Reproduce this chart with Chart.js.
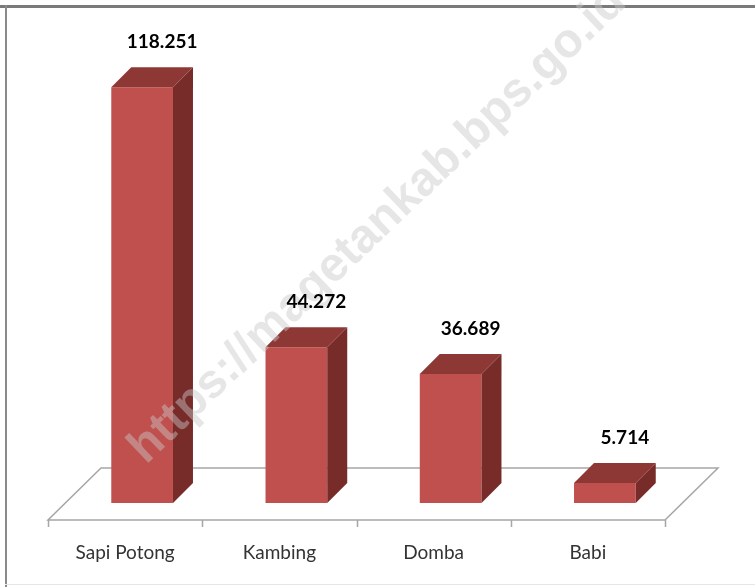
<!DOCTYPE html>
<html>
<head>
<meta charset="utf-8">
<script src="https://cdn.jsdelivr.net/npm/chart.js@4.4.0/dist/chart.umd.min.js"></script>
<style>
  html, body { margin: 0; padding: 0; background: #fff; }
  canvas { display: block; }
</style>
</head>
<body>
<canvas id="ternakChart" width="755" height="587"></canvas>
<script>
// data
const categories = ['Sapi Potong', 'Kambing', 'Domba', 'Babi'];
const populasi = [118251, 44272, 36689, 5714];
const yMax = 130000;

const watermarkText = 'https://magetankab.bps.go.id';

// 3D look
const barDepth = 20;          // depth of each bar (px)
const floorFront = [-17, 17]; // front edge of floor, relative to bar plane
const floorBack = [36, -35];  // back edge of floor, relative to bar plane

function formatNum(v) {
    return String(v).replace(/\B(?=(\d{3})+(?!\d))/g, '.');
}

const frame3d = {
    id: 'frame3d',
    beforeDraw(chart) {
        const ctx = chart.ctx;
        ctx.save();
        ctx.fillStyle = '#ffffff';
        ctx.fillRect(0, 0, chart.width, chart.height);
        // outer frame of the picture
        ctx.fillStyle = '#7a7a7a';
        ctx.fillRect(0, 5, chart.width, 3);
        ctx.fillStyle = '#8a8a8a';
        ctx.fillRect(5, 5, 2, chart.height - 5);
        ctx.fillStyle = '#e6e6e6';
        ctx.fillRect(5, 584, chart.width, 1);
        ctx.restore();
    },
    beforeDatasetsDraw(chart) {
        const ctx = chart.ctx;
        const a = chart.chartArea;
        const xs = chart.scales.x;
        const l = a.left, r = a.right, b = a.bottom;
        ctx.save();
        ctx.strokeStyle = '#a6a6a6';
        ctx.lineWidth = 1.5;
        ctx.beginPath();
        ctx.moveTo(l + floorFront[0], b + floorFront[1]);
        ctx.lineTo(r + floorFront[0], b + floorFront[1]);
        ctx.lineTo(r + floorBack[0], b + floorBack[1]);
        ctx.lineTo(l + floorBack[0], b + floorBack[1]);
        ctx.closePath();
        ctx.stroke();
        // tick marks on the front edge, between categories
        const step = (r - l) / categories.length;
        ctx.beginPath();
        for (let i = 0; i <= categories.length; i++) {
            const x = Math.round(xs.getPixelForValue(0) - step / 2 + i * step + floorFront[0]) + 0.5;
            ctx.moveTo(x, b + floorFront[1]);
            ctx.lineTo(x, b + floorFront[1] + 7);
        }
        ctx.stroke();
        ctx.restore();
    },
    afterDatasetsDraw(chart) {
        const ctx = chart.ctx;
        const meta = chart.getDatasetMeta(0);
        ctx.save();
        meta.data.forEach(bar => {
            const p = bar.getProps(['x', 'y', 'base', 'width'], true);
            const left = p.x - p.width / 2, right = p.x + p.width / 2;
            // side face
            ctx.fillStyle = '#772c2a';
            ctx.beginPath();
            ctx.moveTo(right, p.y);
            ctx.lineTo(right + barDepth, p.y - barDepth);
            ctx.lineTo(right + barDepth, p.base - barDepth);
            ctx.lineTo(right, p.base);
            ctx.closePath();
            ctx.fill();
            // top face
            ctx.fillStyle = '#8e3836';
            ctx.beginPath();
            ctx.moveTo(left, p.y);
            ctx.lineTo(right, p.y);
            ctx.lineTo(right + barDepth, p.y - barDepth);
            ctx.lineTo(left + barDepth, p.y - barDepth);
            ctx.closePath();
            ctx.fill();
        });
        ctx.restore();
    },
    afterDraw(chart) {
        const ctx = chart.ctx;
        // watermark
        ctx.save();
        ctx.translate(146, 465);
        ctx.rotate(-43.7 * Math.PI / 180);
        ctx.font = 'bold 48px "Liberation Sans", Arial, sans-serif';
        ctx.fillStyle = 'rgba(200, 200, 200, 0.45)';
        ctx.textBaseline = 'alphabetic';
        ctx.fillText(watermarkText, 0, 0);
        ctx.restore();
        // value labels above the bars
        const meta = chart.getDatasetMeta(0);
        ctx.save();
        ctx.font = 'bold 19px Lato, sans-serif';
        ctx.fillStyle = '#000000';
        ctx.textAlign = 'center';
        ctx.textBaseline = 'middle';
        meta.data.forEach((bar, i) => {
            const p = bar.getProps(['x', 'y'], true);
            ctx.fillText(formatNum(populasi[i]), p.x + 20, p.y - barDepth - 25);
        });
        ctx.restore();
    }
};

const ctx = document.getElementById('ternakChart').getContext('2d');
new Chart(ctx, {
    type: 'bar',
    data: {
        labels: categories,
        datasets: [{
            label: 'Populasi',
            data: populasi,
            backgroundColor: '#c0504d',
            borderWidth: 0,
            categoryPercentage: 1,
            barPercentage: 0.4
        }]
    },
    options: {
        responsive: false,
        devicePixelRatio: 1,
        animation: false,
        layout: {
            padding: { left: 65, right: 73, top: 46, bottom: 0 }
        },
        plugins: {
            legend: { display: false },
            tooltip: { enabled: false }
        },
        scales: {
            x: {
                grid: { display: false, drawTicks: false },
                border: { display: false },
                ticks: {
                    color: '#333333',
                    font: { family: 'Lato, sans-serif', size: 19 },
                    padding: 38,
                    labelOffset: -17,
                    maxRotation: 0
                },
                afterFit(scale) { scale.height = 84; }
            },
            y: {
                display: false,
                min: 0,
                max: yMax
            }
        }
    },
    plugins: [frame3d]
});
</script>
</body>
</html>
